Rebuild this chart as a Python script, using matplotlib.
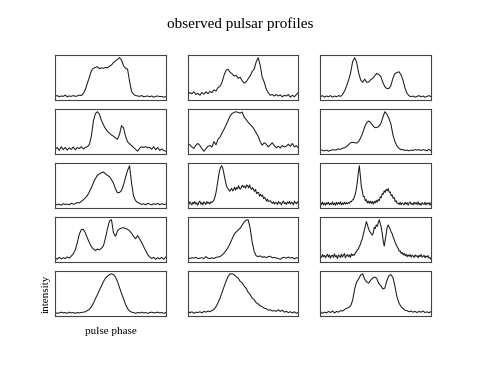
import numpy as np
import matplotlib
matplotlib.use("Agg")
import matplotlib.pyplot as plt

# profile values, in percent of each profile's peak
psr_01 = [3, 5, 2, 4, 3, 6, 2, 4, 3, 5, 3, 4, 6, 5,
          10, 20, 35, 50, 66, 72, 74, 76, 71, 73, 72, 74, 73, 77, 80, 86,
          90, 94, 98, 92, 78, 72, 70, 40, 15, 8, 5,
          4, 3, 5, 2, 3, 4, 2, 4, 1, 3, 4, 2, 3, 1, 2]
psr_02 = [4, 9, 6, 11, 4, 7, 2, 9, 5, 11, 6, 12, 9, 16, 13, 22, 25, 36,
          54, 67, 70, 62, 58, 52, 54, 46, 49, 40, 34, 37, 45, 52, 64, 70,
          89, 100, 80, 49, 36, 18, 9, 2, 4, 0, 4, 0, 3, -2, 2, 0, 4, -3,
          2, -2, 4, 9]
psr_03 = [0, 3, -1, 2, 0, 3, -1, 2, 0, 3, 1, 6, 15, 28, 43, 62, 90, 100,
          88, 60, 43, 37, 45, 37, 38, 44, 47, 54, 60, 57, 52, 37, 26, 21,
          21, 28, 47, 59, 62, 64, 57, 43, 23, 9, 3, 0, 2, -1, 1, 3, 0, 2,
          -1, 1, 3, 0]
psr_04 = [0, 5, -3, 7, -1, 5, -2, 4, 0, 6, -1, 5, 2, 7, 1, 5, 7, 13, 35,
          75, 95, 100, 93, 77, 65, 55, 48, 43, 38, 35, 30, 27, 40, 63, 57,
          35, 20, 15, 10, 5, 0, -5, 3, 7, 5, 7, 4, 5, 0, 7, -1, 5, -3, 1,
          -3, -5]
psr_05 = [10, 6, 0, -4, 5, 10, 4, -5, -12, -5, 2, 4, 0, 15, 6, 22, 28,
          40, 50, 62, 75, 88, 95, 98, 100, 98, 96, 99, 85, 78, 70, 64, 58,
          50, 40, 30, 15, 5, 12, 8, 0, 6, 12, 4, -2, 2, -3, 4, 0, 2, 8, 2,
          10, 0, 4, -3]
psr_06 = [2, 0, -1, 1, -2, 0, 2, 1, 2, 4, 3, 6, 7, 10, 15, 20, 21, 20,
          19, 23, 33, 45, 61, 72, 76, 72, 64, 59, 59, 62, 69, 85, 100, 94,
          83, 69, 41, 23, 12, 6, 2, 2, 0, 1, -1, 1, 0, 2, 1, 2, 0, 2, 1,
          -1, 3, -1]
psr_07 = [2, -1, 1, -2, 2, 0, 1, -1, 3, 1, 2, 5, 4, 8, 12, 17, 23, 33,
          44, 56, 67, 75, 79, 82, 84, 79, 75, 72, 64, 55, 40, 30, 31, 36,
          51, 70, 88, 100, 55, 21, 10, 5, 3, 0, 2, -1, 3, 1, -1, 2, 0, 3,
          -1, 2, 0, 1]
psr_08 = [2, -3, 4, 0, -4, 3, -1, 5, -2, 1, -5, 3, 6, -2, 2, -4, 4, 1,
          -3, 5, 0, 3, -2, 4, 2,
          5, 8, 15, 25, 40, 58, 75, 88, 96, 100, 94, 82, 68, 56, 45, 40,
          37, 32, 36, 40, 33, 37, 43, 35, 42, 39, 47, 39, 38, 45, 48, 43,
          46, 40, 49, 47, 41, 49, 41, 37, 42, 36, 32, 37, 26, 29, 29, 19,
          24, 19, 22, 13, 16, 12, 6, 11, 5, 6, 7, 2,
          0, 4, -2, 3, 1, -3, 5, 0, 2, -4, 3, 6, -1, 2, -3, 4, 0, 5, -2,
          3, 1, -4, 6, 2, -1, 4, 0]
psr_09 = [3, -2, 4, -3, 2, -4, 3, -1, 4, -3, 1, -2, 5, -3, 2, -4, 4, -2,
          3, -1, 5, -3, 2, -2, 4, -1, 3, 0,
          3, 1, 6, 5, 10, 11, 18, 26, 40, 58, 82, 100, 74, 45,
          33, 19, 19, 8, 11, 2, 7, 1, 7, 1, 6, -1, 6, 2, 9, 4, 11, 8, 18,
          16, 27, 25, 34, 30, 38, 34, 40, 30, 31, 21, 23, 14, 16, 6, 8, 1,
          1, -2, 4, -3, 2, 0, -3, 4, -1, 3, -4, 2, 5, -2, 1, -3, 4, -1, 3,
          -2, 5, -3, 1, -4, 3, 0, -2, 4, -3, 2, -1, 3, -4, 2]
psr_10 = [2, -2, 3, -1, 2, 0, 4, 1, 6, 12, 22, 40, 62, 73, 74, 65, 52,
          40, 30, 24, 20, 24, 22, 26, 32, 52, 75, 95, 98, 65, 56, 70, 75,
          77, 78, 76, 74, 70, 64, 56, 50, 58, 50, 40, 30, 20, 10, 4, 0, 3,
          -2, 2, -1, 3, -2, 4]
psr_11 = [1, -1, 1, 0, 2, -1, 0, 1, -1, 4, 0, -1, 1, -1, 2, 3, 4, 8, 13,
          20, 28, 38, 50, 62, 68, 73, 78, 86, 94, 99, 100, 78, 42, 18, 6,
          4, 6, 2, 4, 1, 4, 5, 1, 2, 0, -1, -3, 1, 2, 0, 3, 0, 2, -2, 1, 0]
psr_12 = [2, -3, 5, -1, 3, -4, 1, 6, -2, 4, -5, 2, 3, -3, 7, -1, 2, -6,
          4, 1, -3, 6, -2, 3, 8, -4, 2, 5, -1, 4, -3, 7, 2, 5, 3,
          10, 12, 18, 20, 28, 32, 42, 48, 60, 72, 82, 95, 88, 78, 70, 66,
          62, 58, 64, 80, 76, 86, 82, 92, 100, 90, 80, 62, 42, 28, 45, 62,
          80, 86, 80, 74, 66, 62, 52, 46, 38, 32, 26, 22, 14, 15, 8, 11,
          4, 8,
          2, 6, -1, 4, 0, 5, -2, 3, 1, -3, 4, 0, 2, -4, 3, -1, 5, -2, 0,
          3, -4, 1, -2, 2, -5, -3, -8]
psr_13 = [1, -1, 0, 2, 0, 1, -1, 2, 0, 1, -1, 1, 0, 1, 2, 3, 6, 9, 16,
          25, 36, 47, 58, 69, 80, 89, 94, 98, 100, 98, 92, 80, 65, 50, 36,
          22, 11, 5, 2, 1, -1, 1, 0, 2, 0, 1, -1, 1, 2, 0, 1, 2, 0, 1, -1,
          1]
psr_14 = [5, -1, 2, -2, 1, 0, 2, -1, 3, 1, 4, 2, 5, 8, 15, 25, 37, 51,
          66, 80, 92, 99, 99, 97, 92, 88, 80, 76, 68, 62, 52, 46, 37, 33,
          25, 22, 17, 15, 11, 10, 6, 7, 4, 5, 3, 7, 3, 6, 1, 3, 0, 2, -1,
          2, -2, 1]
psr_15 = [2, -2, 1, -1, 3, 0, 4, -1, 3, 1, 5, 4, 8, 11, 13, 17, 32, 61,
          79, 87, 97, 100, 86, 79, 76, 84, 89, 92, 88, 75, 69, 61, 63, 82,
          95, 98, 91, 69, 42, 25, 16, 11, 6, 5, 2, 4, 1, 3, 0, 3, 1, 4, 0,
          2, -1, 3]

profiles = [psr_01, psr_02, psr_03,
            psr_04, psr_05, psr_06,
            psr_07, psr_08, psr_09,
            psr_10, psr_11, psr_12,
            psr_13, psr_14, psr_15]

title = "observed pulsar profiles"
x_label = "pulse phase"
y_label = "intensity"


def main():
    plt.rcParams['font.family'] = ['Liberation Serif', 'DejaVu Serif']

    fig, axes = plt.subplots(5, 3, figsize=(4.8, 3.71), dpi=100)
    fig.subplots_adjust(left=0.115, right=0.898, top=0.852, bottom=0.148,
                        wspace=0.2, hspace=0.2)

    for ax, prof in zip(axes.flat, profiles):
        phase = np.linspace(0, 1, len(prof))
        ax.plot(phase, prof, color='#1a1a1a', lw=0.75)
        ax.set_xlim(0, 1)
        ax.margins(y=0.07)
        ax.set_xticks([])
        ax.set_yticks([])
        for sp in ax.spines.values():
            sp.set_color('#444444')
            sp.set_linewidth(0.8)

    axes[4, 0].set_xlabel(x_label, fontsize=8, labelpad=8)
    axes[4, 0].set_ylabel(y_label, fontsize=8, labelpad=3)

    fig.suptitle(title, fontsize=11, y=0.935, va='center')

    fig.savefig("out.png", dpi=100)


if __name__ == "__main__":
    main()
